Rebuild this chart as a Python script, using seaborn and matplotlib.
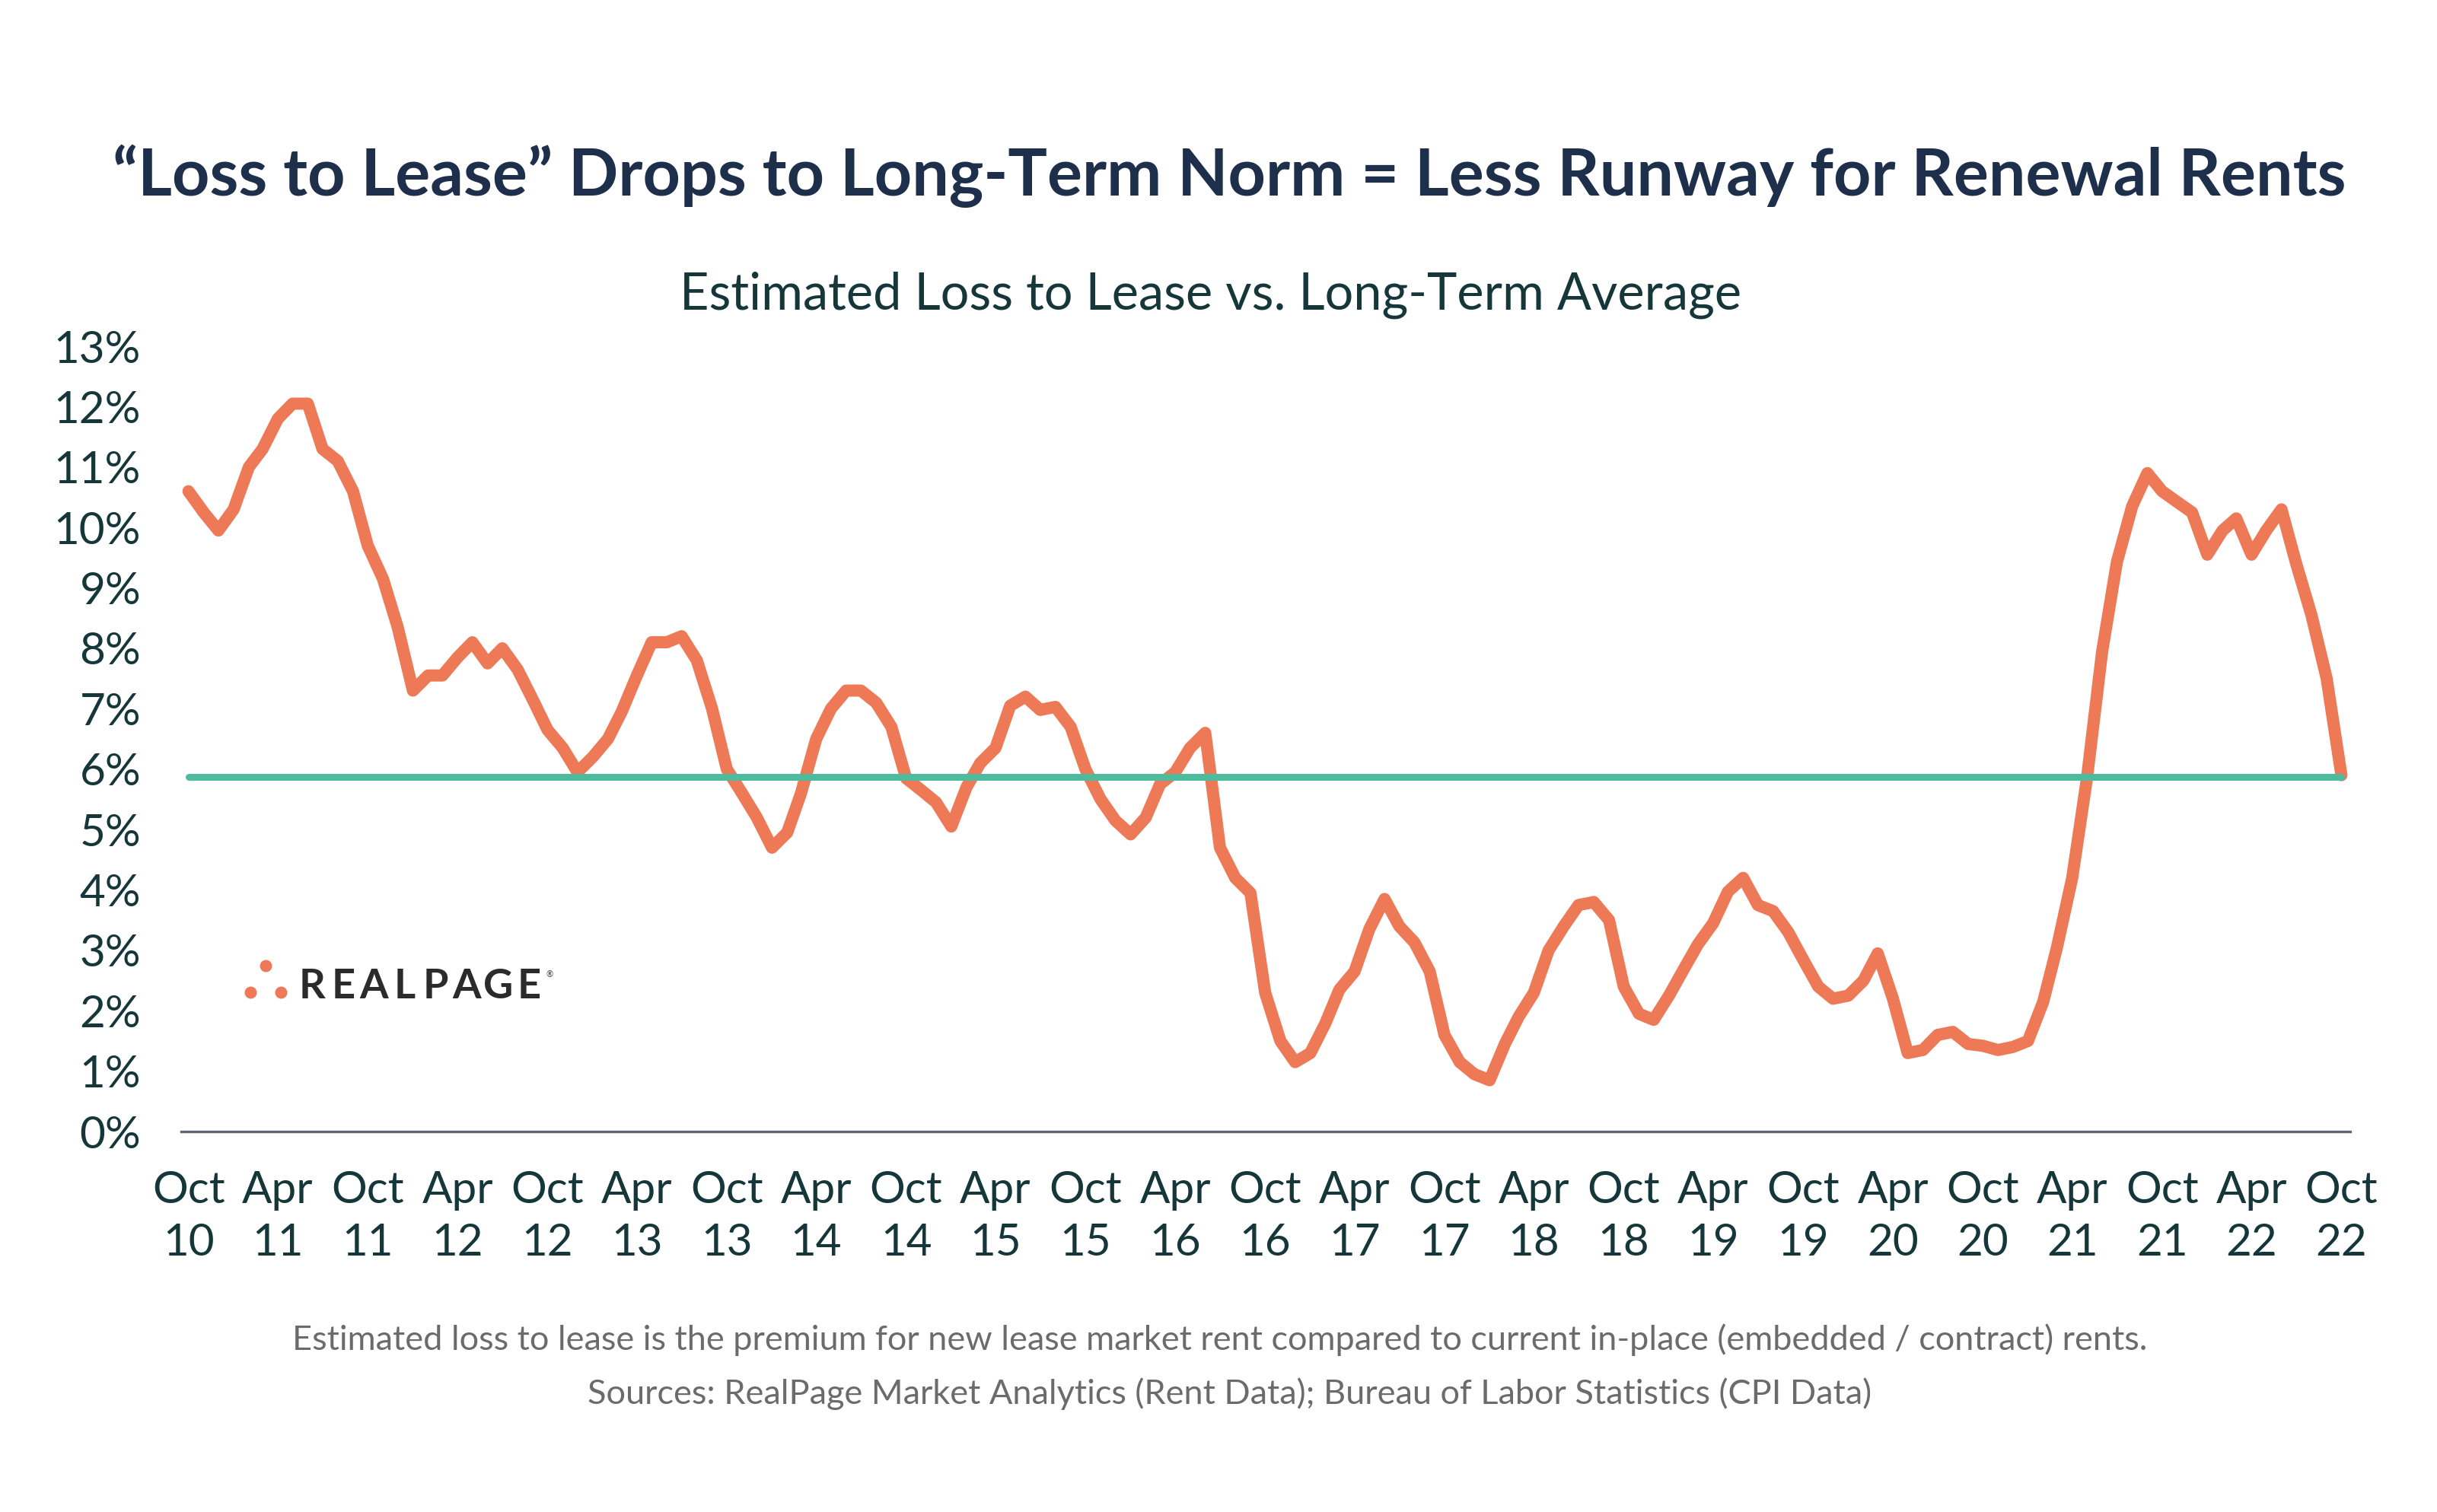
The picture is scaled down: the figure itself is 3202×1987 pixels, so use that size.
import matplotlib
matplotlib.use('Agg')
import matplotlib.pyplot as plt
import seaborn as sns
import pandas as pd

# Chart data (monthly, Oct 2010 - Oct 2022)
months = pd.date_range('2010-10-01', periods=145, freq='MS')
loss_to_lease = [
    10.6, 10.25, 9.95, 10.3, 11.0, 11.3, 11.8, 12.05, 12.05, 11.3,
    11.1, 10.6, 9.7, 9.15, 8.35, 7.3, 7.55, 7.55, 7.85, 8.1,
    7.75, 8.0, 7.65, 7.15, 6.65, 6.35, 5.95, 6.2, 6.5, 6.95,
    7.55, 8.1, 8.1, 8.2, 7.8, 7.0, 6.0, 5.6, 5.2, 4.7,
    4.95, 5.6, 6.5, 7.0, 7.3, 7.3, 7.1, 6.7, 5.85, 5.65,
    5.45, 5.05, 5.7, 6.1, 6.35, 7.05, 7.2, 6.98, 7.03, 6.7,
    6.0, 5.5, 5.15, 4.92, 5.2, 5.75, 5.95, 6.35, 6.6, 4.7,
    4.2, 3.95, 2.3, 1.5, 1.15, 1.3, 1.8, 2.35, 2.65, 3.35,
    3.85, 3.4, 3.13, 2.65, 1.6, 1.15, 0.95, 0.85, 1.45, 1.9,
    2.3, 3.0, 3.4, 3.75, 3.8, 3.5, 2.4, 1.95, 1.85, 2.25,
    2.7, 3.1, 3.45, 3.97, 4.2, 3.75, 3.65, 3.3, 2.85, 2.4,
    2.2, 2.25, 2.5, 2.95, 2.2, 1.3, 1.35, 1.6, 1.65, 1.45,
    1.42, 1.35, 1.4, 1.5, 2.15, 3.05, 4.2, 5.85, 7.95, 9.43,
    10.35, 10.9, 10.6, 10.42, 10.25, 9.55, 9.95, 10.15, 9.55, 9.95,
    10.3, 9.4, 8.55, 7.5, 5.9,
]
long_term_avg = 5.87

tick_labels = [
    'Oct\n10', 'Apr\n11', 'Oct\n11', 'Apr\n12', 'Oct\n12', 'Apr\n13', 'Oct\n13',
    'Apr\n14', 'Oct\n14', 'Apr\n15', 'Oct\n15', 'Apr\n16', 'Oct\n16', 'Apr\n17',
    'Oct\n17', 'Apr\n18', 'Oct\n18', 'Apr\n19', 'Oct\n19', 'Apr\n20', 'Oct\n20',
    'Apr\n21', 'Oct\n21', 'Apr\n22', 'Oct\n22',
]
y_ticks = list(range(0, 14))

ORANGE = '#EE7956'
GREEN = '#4EBB9E'
TEXT = '#15373A'

sns.set_style('white')
plt.rcParams['font.family'] = ['Lato', 'DejaVu Sans']

df = pd.DataFrame({'month': months, 'loss_to_lease': loss_to_lease})
df['long_term_avg'] = long_term_avg

fig = plt.figure(figsize=(32.02, 19.87), dpi=100)
ax = fig.add_axes([0.0743, 0.2516, 0.8901, 0.5194])

sns.lineplot(data=df, x='month', y='loss_to_lease', ax=ax, color=ORANGE, linewidth=11.5,
             solid_capstyle='round', solid_joinstyle='round')
sns.lineplot(data=df, x='month', y='long_term_avg', ax=ax, color=GREEN, linewidth=6.5,
             solid_capstyle='round')

ax.set_xlim(months[0] - pd.Timedelta(days=15), months[-1] + pd.Timedelta(days=18))
ax.set_ylim(0, 13)
ax.set_xticks(months[::6])
ax.set_xticklabels(tick_labels, linespacing=1.35)
ax.set_yticks(y_ticks)
ax.set_yticklabels([f'{v}%' for v in y_ticks])
ax.set_xlabel('')
ax.set_ylabel('')
ax.tick_params(axis='both', length=0, labelsize=42, colors=TEXT)
ax.tick_params(axis='x', pad=37)
ax.tick_params(axis='y', pad=38)
for side in ['top', 'right', 'left']:
    ax.spines[side].set_visible(False)
ax.spines['bottom'].set_color('#5F6575')
ax.spines['bottom'].set_linewidth(2.4)
ax.grid(False)

# Titles
fig.text(0.5045, 0.8707, '\u201cLoss to Lease\u201d Drops to Long-Term Norm = Less Runway for Renewal Rents',
         ha='center', va='baseline', fontsize=62, fontweight='bold', color='#1D2F4B')
fig.text(0.4968, 0.7952, 'Estimated Loss to Lease vs. Long-Term Average',
         ha='center', va='baseline', fontsize=48, color=TEXT)

# Footnotes
fig.text(0.5005, 0.107, 'Estimated loss to lease is the premium for new lease market rent compared to current '
         'in-place (embedded / contract) rents.', ha='center', va='baseline', fontsize=32.5, color='#6B6B6B')
fig.text(0.5045, 0.0714, 'Sources: RealPage Market Analytics (Rent Data); Bureau of Labor Statistics (CPI Data)',
         ha='center', va='baseline', fontsize=32.5, color='#6B6B6B')

# RealPage logo
ax.scatter([0.109, 0.1027, 0.1152], [0.3614, 0.3437, 0.3437], s=132, color=ORANGE,
           transform=fig.transFigure, clip_on=False, linewidths=0)
for i, letter in enumerate('REALPAGE'):
    fig.text((410 + 40.7 * i) / 3202, 0.3397, letter, ha='center', va='baseline',
             fontsize=39, fontweight='bold', color='#2B2B2B')
fig.text(722 / 3202, 0.3540, '\u00ae', ha='center', va='baseline', fontsize=8, color='#2B2B2B')

fig.savefig('out.png', dpi=100)
